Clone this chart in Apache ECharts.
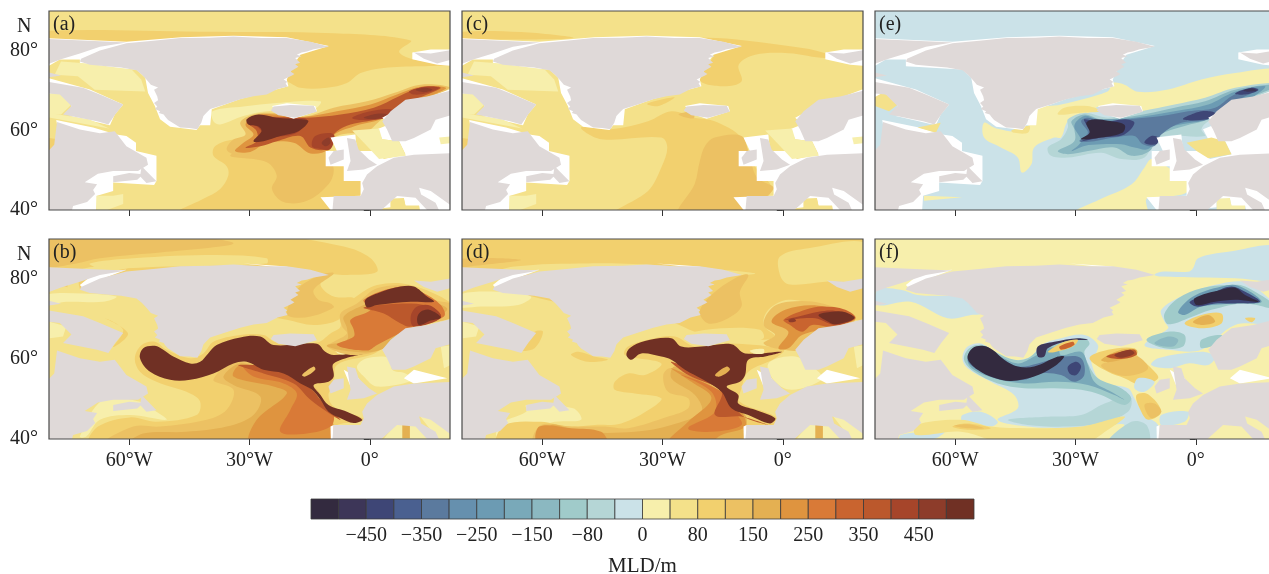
<!DOCTYPE html>
<html><head><meta charset="utf-8">
<style>html,body{margin:0;padding:0;background:#fff}#c{width:1269px;height:574px}</style>
<script src="https://cdn.jsdelivr.net/npm/echarts@6/dist/echarts.min.js"></script>
</head><body><div id="c"></div>
<script>
// Colour classes of MLD (m), index 1..24
const CLASS_COLORS=['#332a3f','#3d3658','#3e4676','#4a6090','#5b7a9e','#6690ae','#6c9bb3','#79a9b9','#8bb8c1','#a0cbca','#b5d6d6','#cbe2e8','#f7efac','#f4e18a','#f2d06e','#ecc163','#e4b052','#df943f','#d97a37','#c9642f','#bb582c','#a6452a','#8d3c2a','#703024'];
const BAR_TICK_POS=[2,4,6,8,10,12,14,16,18,20,22];
const BAR_TICK_LABELS=['\u2212450','\u2212350','\u2212250','\u2212150','\u221280','0','80','150','250','350','450'];
const LON_TICKS=[-60,-30,0];
const LAT_TICKS=[40,60,80];
const PANEL_LETTERS=['(a)','(b)','(c)','(d)','(e)','(f)'];

// True land outlines, lon,lat pairs
const LAND=[
[-81,83,-67.3,82.4,-60.7,82.1,-67.3,81,-72.3,79.3,-77,77.9,-81,76.4],
[-72,78,-67.3,80.1,-60.7,81.9,-54,82.5,-47.3,83.2,-40,83.3,-34,83.6,-27,83.2,-20.7,83.2,-14.8,82.3,-10.2,81,-14,80.4,-15.7,79.8,-17,79.6,-18.2,79,-17,78.6,-18.6,78.2,-17.4,77,-18.6,76.6,-17.8,76,-19.8,74.8,-18.8,74.2,-19.4,73.8,-21.5,72.8,-20.6,72.2,-21,71.8,-20.5,71,-23,70.4,-25.7,69,-29,68.6,-32.3,67.8,-36,66.6,-39.8,65.4,-40.8,64.4,-41.5,63.6,-42,62,-43,60.3,-45,60.6,-47.3,60.7,-49,61.8,-50.3,62.6,-51,63.4,-51.4,64,-52.6,64.4,-52.3,64.8,-53.6,65.4,-53,66,-53.8,66.9,-52.8,67.6,-53,68.5,-53.8,70.2,-52.8,70.8,-54.6,71.5,-55.7,72.8,-56.8,74,-58.2,75.1,-62,75.8,-65.7,76.1,-69.8,76.5,-72.3,77.3],
[-81,72.3,-71.5,70.7,-67.3,69,-61.5,66.5,-63.5,64,-65.2,61.5,-68,62.3,-76.5,64,-74.4,66.1,-77.3,69,-81,69.4],
[-81,74.8,-77,73.8,-81,73.2],
[-78,62.1,-72.3,60.2,-67.3,59.3,-63.6,59.8,-60.7,56,-55.7,53.1,-55.3,51.4,-57.8,49.8,-64,49.8,-67.8,49.1,-71.1,47,-68,46.5,-69,45,-68.5,44,-70.5,42,-74,41,-74.5,39,-81,39,-81,54,-78.7,56.4],
[-64,48.5,-60,49.3,-56.5,49,-58,47.6,-64,47],
[-56.9,51,-53.2,47.2,-55.7,46.8,-57.3,48.5],
[-24,66,-19.8,66.4,-14,66.2,-13.2,64.7,-18.6,63.2,-22.8,63.8,-24.7,65],
[11,79.6,15.2,79.3,21,80.3,21,78,16.8,76.8,13.5,78],
[21,70.2,14.3,68.5,8.9,67.7,5.2,64.8,3.1,62.3,4.3,60.2,5.6,57.3,8.9,57.3,11,58.1,15.2,60.2,16.4,62.7,21,64],
[21,54.3,11,53.9,6,53.1,1.8,51,-0.7,48.9,-1.9,46.8,-1.5,45.2,-2.3,43.5,-9,43.5,-9.4,39,1.8,39,6.8,43.5,11.4,43.1,15.2,39,17.7,39,16.4,41.8,12.8,43.9,12.3,45.6,15.2,44.8,20,41.3,21,41],
[-5.7,58.1,-3.6,57.7,-2.8,55.2,-0.2,52.7,1.8,51.4,-1.5,50.2,-5.7,49.8,-4.8,52.3],
[-9,54.8,-6.5,55.2,-6.5,52.7,-9.8,51.4,-10.3,53.1]
];
// Coarse model land mask of panels a, c, e
const COARSE_MASK=[
[-81,83.2,-60.7,82.3,-47,83.4,-34,83.8,-20.7,83.4,-10.2,81.2,-17.3,79,-19,76.5,-20.7,72.8,-20.3,71.1,-32.3,67.9,-39.4,65.3,-39.8,61.3,-42.3,61.3,-43.2,60.1,-49.8,60.9,-52.3,62.8,-53.6,66.1,-55.3,69.4,-56,73.2,-58.2,75.3,-72.3,76.1,-72.3,77.8,-77.3,77.8,-81,75.7],
[-81,73.4,-69.8,70.3,-61.5,66.5,-63.6,64,-64.8,61.3,-74.8,63.6,-74.4,66.8,-77.5,69.3,-81,67.8],
[-78.2,62.6,-69,60.7,-63.2,59,-60.7,58.6,-58.3,56.9,-58.3,54.8,-53.2,53.6,-53.2,47.3,-53.8,46.3,-64,46.9,-64,44.8,-68,43.6,-68.3,39,-81,39,-81,51.5,-77.3,57.8],
[-9.8,58.2,-3.6,59,-3.2,54.8,1.8,54.8,3.5,52.8,8.9,54,7.3,57.3,3.1,57.8,1.8,60.3,4.8,61.5,3.1,63.2,7.7,65.7,19.8,70.3,21,70.3,21,39,12.7,39,12.3,41,8.9,41,8.5,42.8,5.2,42.8,5.2,40.7,-9,39,-12.3,43.2,-2.3,43.6,-2.3,47.3,-6.5,47.3,-6.5,51,-11,51,-11,54.8,-8.2,54.8],
[10.6,79.6,15.2,80.3,21,80.3,21,76.2,16.8,76.5,10.6,77.9],
[-24.4,66.1,-20.7,66.8,-13.6,66.1,-13.2,64.8,-19,62.9,-22.3,64]
];
// White slivers of the finer runs, panels b, d, f
const FINE_MASK=[
[-72.3,78.5,-68.2,81.8,-60.7,82.3,-67.3,79.8,-71.5,77.7],
[-31.5,83.9,-21.5,83.2,-13.2,81.8,-20.7,82.7],
[-6.5,57.3,-2.8,55.2,-0.7,51.4,-4.8,53.1],
[11,57.3,19.3,55.2,11,53.9,8.5,55.2],
[-9,43.5,-9.8,43.1,-9.7,39,-9,39]
];
// Cells shown over the mask in panels a and c
const COARSE_CELLS=[
[13,[-78.6,74,-72.8,73.6,-68.6,70.2,-56,69.8,-57,72.8,-59.4,75.3,-71,76.9,-77,77.3]],
[13,[-81,69,-78,69.7,-73,67.8,-77,64,-81,64]],
[13,[-81,64.5,-70,62.8,-65,60.5,-81,63.4]],
[13,[-4.4,60,2.3,60.5,3.1,57.8,7.3,57.3,9,53.6,2.3,52.8,-0.7,56.1]],
[13,[17.3,58.2,21,58.6,21,56.9,17.7,56.5]],
[13,[-68.2,43.6,-64,43.6,-61.5,44,-61.5,41.5,-68.2,39]],
[14,[5.2,42.8,8.5,43,8.9,41.1,12.3,41.1,12.3,39,5.2,39]],
[15,[-81,58.2,-77.8,57.8,-79,54,-81,53.2]]
];
const E_CELLS=[
[14,[-2.3,56.9,3.9,58.2,7.3,57.3,8.9,54,3.1,53,0.2,54.8]],
[14,[-81,67.8,-78.2,69.4,-73.2,67.3,-76.5,64.8,-81,66.5]],
[14,[-69.4,60.7,-63.6,61.9,-64.8,59.4]],
[13,[-67.8,43.6,-58.2,43.2,-67.8,42.3]],
[13,[5.2,42.8,8.5,43,8.9,41.1,12.3,41.1,12.3,39,5.2,39]]
];
// Cells shared by the finer panels b and d
const FINE_CELLS=[
[13,[-79.8,69.3,-75.7,68.1,-76.5,65.6,-79.8,65.2]],
[13,[17.7,63.1,21,63.5,21,58.9,18.5,57.7]],
[13,[2.7,39,6.8,44.3,11.8,43.5,16,39]],
[13,[12.3,46,15.6,45.2,21,41,17.7,39]],
[17,[8.1,43.9,10,43.9,10,40.2,8.1,40.2]]
];

// Filled MLD classes of each panel: [class, lon,lat outline]
const FIELD_A=[
[15,[-81,85,-42.3,84.8,-9,84.4,10.2,82.6,7.3,79.8,10.6,77.9,21,76.5,3.5,75.7,-2.3,74.4,-5.7,71.9,-10.7,70.7,-17.3,70.7,-20.7,72.3,-50,80,-81,83.2]],
[15,[-38.6,56,-39,53.6,-35.7,51,-35.3,48.6,-37.3,45.3,-41.5,42.8,-48.2,39,-11.5,39,-2.3,43.6,-2.3,47.3,-6.5,51,-10.7,53.6,-12.3,56,-19.8,58.6,-34,57.7]],
[16,[-34.8,53.6,-25.7,52,-23.2,48.6,-24.4,45.3,-21.5,42,-15.7,42.3,-10.3,46.5,-9,50.2,-10.7,53.6,-19,56,-27.3,56]],
[13,[-39.2,64.8,-31.5,66,-23.2,66.9,-12.3,67.3,-14,65.2,-25.7,64.8,-31.5,63.6,-37.3,61.5,-39,62.3]],
[16,[-35.7,55.3,-34,57.7,-31,59,-32.3,62,-29,64,-24,64.4,-17.3,63.2,-9,65.7,-0.7,67.3,6,69.4,12.7,71.5,19.8,70.9,17.7,69.4,9.3,66.9,3,62.8,-0.7,59.8,-8.2,58.6,-10.3,54.8,-11,53.6,-15.7,53.6,-20.7,55.7,-29,54,-34,54]],
[18,[-33.6,54.8,-31.5,56.9,-29,59,-31,61.5,-28.2,63.8,-23.2,64,-16.5,63.4,-8.2,64.8,0.2,66.5,6.8,69,13,71,19,70.7,16,69,9.3,66.8,3,62.9,-4,61,-9,58.8,-10.3,55.2,-14.8,54.2,-19,56.9,-25.7,56.9,-29.8,54.6]],
[21,[-31,55.7,-28.2,57.3,-28.2,59.8,-30.3,61.9,-27.8,63.6,-23.2,63.4,-15.7,63.2,-7.3,64,1,65.7,7.3,68.6,13,70.9,17.7,70.7,14.3,69,8.5,66.5,3,63.2,-4.8,61.5,-8.2,59.8,-9.8,57.8,-11,55.2,-14.8,55.7,-17.3,58.6,-23.2,57.3,-27.3,56]],
[22,[-28.6,57,-26.5,58.6,-27.8,60.7,-29.8,61.9,-27.3,63.6,-22.3,62.9,-15.7,62.8,-18.2,59.4,-24,58.2]],
[22,[-14.4,56,-13.6,58.6,-9,59,-9.8,55.3,-12.3,55.3]],
[22,[-4.4,63.2,0.2,64.8,5.2,65.3,6.8,64,3.5,62.9,-2.3,62.6]],
[22,[9.8,69.8,13.5,70.9,17.3,70.7,14.3,69.4,11,69]],
[24,[-30.7,62.8,-27.8,64,-23.2,63.2,-17.3,62.8,-15.3,62.3,-17.8,59.8,-22.3,58.6,-26.5,57.3,-29,57.3,-27,59.8,-27.8,61,-30.3,61.5]],
[23,[-12,56.9,-10.3,58.2,-9.8,56.9,-11,56]],
[23,[-1.5,63.2,1.8,64.2,4.3,64,1.8,62.9]],
[23,[11.4,70.2,13.9,70.7,15.6,70.2,13.5,69.6]]
];
const FIELD_C=[
[15,[-81,84.7,-65.2,84.7,-52.3,83.2,-73.6,82.8,-81,83.2]],
[15,[-20.7,83.2,2.3,81.1,10.6,79.4,10.6,78.2,1.4,79.4,-6.9,79,-11,76.5,-10.3,72.3,-15.3,71.1,-20.7,72.8,-17,79.8]],
[15,[-50.3,60.7,-45.3,57.8,-30.3,58.2,-28.8,55.7,-30.3,50.7,-33.6,44.8,-42,39,-12.3,39,-2.8,44.8,-7.3,51.5,-10.3,58.2,-17,62.3,-22,63.2,-27.8,64.8,-33.6,62.3,-42.8,60.3]],
[16,[-19.4,56.1,-20.7,52.3,-22,46.5,-26,39,-12.3,39,-2.3,45.3,-6.5,48.2,-8.6,54.8,-10.3,58.6,-17,58.2]],
[15,[-33.8,66.7,-27,68.3,-31,66.1]],
[16,[-26,64,-22.3,64.7,-22.3,63]]
];
const FIELD_E=[
[13,[-20.7,71.9,-17.8,71.5,-14.4,69.7,-6.9,70.3,1.4,72.8,9.8,74.4,21,75.3,21,71.5,9.8,69.7,1.4,67.3,-8.6,64.4,-12.8,64.8,-23.6,66.1,-28.6,63.2,-31.9,62.3,-33.6,58.2,-35.3,58.2,-40.3,55.7,-41,51.5,-43.4,49.4,-44.4,53.2,-48.6,55.7,-52.8,58.2,-52.8,61.9,-49.8,60.5,-42.8,60,-39.8,65.3,-33.6,66.5,-22,69.8]],
[14,[-34.4,64,-32.8,65.7,-27,66.1,-23.6,64.8,-29.4,64.4]],
[14,[-46,60,-41.5,61.1,-41.9,59.4,-45.3,59.4]],
[13,[-30.7,39,-23.6,42.8,-16,46.5,-12.8,50.7,-11,52.8,-6.9,50.7,-2.3,47.3,-2.3,44.4,-8.6,43.2,-12.3,42.8,-12.3,39]],
[11,[-36.9,55.7,-33.6,57.8,-31.9,60.7,-31.9,62.8,-27.8,64.4,-21.9,63.2,-13.6,64.8,-5.3,66.5,2.3,68.2,9.8,70.7,21,71.9,21,69.7,9.8,65.7,3.1,62.3,1.4,60.3,2.3,58.6,-9.4,58.2,-12.8,53.2,-18.6,52.8,-23.6,54.4,-31.9,53.2,-36.1,53.6]],
[9,[-34.4,54.8,-30.3,57.3,-30.3,60.3,-31,62.3,-27.8,64,-23.6,62.8,-15.3,63.6,-5.3,65.7,2.3,67.3,9.8,70.2,21,71.5,16.4,69.4,9.8,66.8,3.1,62.8,-2.8,61.1,-9.4,58.6,-11.5,54.8,-16,53.6,-20.3,55.7,-26.9,54.8,-31.9,54]],
[7,[-31,54.8,-28.6,57.3,-30.3,61.1,-27.8,63.6,-24.4,62.8,-15.3,63.2,-5.3,64.8,3.1,66.5,9.8,69.7,17.3,71.1,13.9,68.2,8.1,65.7,3.1,62.8,-6.9,60.7,-9.4,58.2,-11.9,55.3,-15.3,55.7,-18.6,56.5,-23.6,56.5,-27.8,56.1]],
[5,[-29,57.3,-26.9,59.4,-28.6,62.3,-26.9,63.2,-23.6,62.3,-16.9,62.8,-8.6,63.6,-1.9,64.8,4.8,65.7,8.9,68.6,13.9,70.7,15.6,70.3,9.8,67.3,3.1,62.8,-3.6,61.9,-8.6,59,-10.3,56.1,-13.2,56.5,-15.3,58.6,-20.3,58.2,-25.3,57.3]],
[3,[-28.6,57.3,-25.3,59,-27.3,61.5,-27.8,62.8,-23.6,61.9,-17.8,62.8,-15.3,61.9,-17.8,59,-23.6,58.2]],
[3,[-12.8,56.9,-11.1,58.6,-9.4,58.2,-9.8,56.5]],
[3,[-3.2,62.8,1.4,64.8,4.8,64.4,2.7,62.8]],
[3,[9.8,69.3,13.9,70.7,15.6,70.1,12.3,69]],
[1,[-28.6,57.8,-26.5,59.4,-27.3,61.9,-25.3,62.8,-21.9,62.4,-17.8,61.4,-18.2,59.5,-23.6,58.2]],
[2,[11.8,70,13.9,70.5,15.2,70,13,69.7]]
];
const FIELD_B=[
[15,[-81,91,-25.7,91,-6.5,88.1,0.2,85.2,1.8,81.8,-5.7,81,-10.3,81,-12.3,78.5,-9,75.6,-4,75.2,-7.3,72.3,-7.8,69.8,-14,68.5,-20.7,69.8,-50,75,-81,80]],
[16,[-81,91,-49,91,-34,88.9,-50.7,86.8,-67.3,85.2,-73.2,83.9,-81,83.5]],
[14,[-69.8,83.9,-59,85.2,-38.2,86,-25.7,85.2,-25.7,83.9,-50.7,83.1,-67.3,82.7]],
[14,[-75.3,78.5,-74.4,81.4,-68.2,83.1,-59,83.1,-72.3,79.8,-72.3,76.4,-75.3,77.3]],
[16,[-20.7,71.4,-18.2,77.3,-12.3,81,-9,81.4,-14,77.3,-12.8,74.8,-9.8,73.9,-9,72.9,-14.8,70.6,-19,70.4]],
[13,[-81,76,-71.5,76.4,-63.2,75.6,-66.5,74.3,-75.7,74.3,-81,73.5]],
[15,[-66,70.2,-60.3,66.4,-64,63,-61.5,67.3]],
[13,[-66.5,49.8,-57.3,49.3,-53.2,46.8,-50.7,44.8,-59.8,46,-67.3,44.8,-70.7,40.6,-72.3,40.6]],
[15,[-69.8,39,-67.8,43.1,-59.8,45.4,-53.2,44.3,-43.2,46,-42.3,49.3,-44.8,51.4,-53.2,54.3,-57.3,56.8,-58.6,60.2,-56.9,63.5,-53.6,64.3,-50.7,62.3,-44.8,60.2,-41.5,61.4,-39,64.3,-32.3,66,-26.5,66,-23.2,64.1,-13.2,64.1,-9.8,66.4,-7.3,68.1,-7.8,72.3,-4,75.2,1.8,78.5,10.2,78.5,21,73.5,21,70.6,10.2,67.7,2.7,62.3,0.2,61,-8.2,58.5,-9,53.9,-10.3,51,-9,48.1,-1.5,44.8,-9,43.1,-9.4,39]],
[16,[-65.7,39,-59,43.1,-52.3,43.1,-40.7,44.8,-35.7,47.3,-34,52.3,-39,54.8,-32.3,59.3,-14,53.1,-10.3,45.6,-9,43.1,-9.4,39]],
[17,[-59.8,39,-56.5,41.4,-45.7,41.8,-35.7,43.1,-29,46,-27.3,50.6,-34,53.5,-36.5,55.6,-32.3,58.9,-26.5,56.8,-17.3,53.5,-10.7,46,-9,43.1,-9.4,39]],
[18,[-29.8,39,-28.2,44.8,-20.7,51.4,-24,53.1,-34,55.6,-32.3,58.5,-25.7,56.4,-17.3,53.5,-10.7,47.3,-9,43.1,-9.8,39]],
[19,[-22.3,41.8,-19.8,47.3,-18.2,51.4,-21.5,53.9,-29,55.6,-31.5,58.1,-25.7,56.8,-17.3,53.5,-11.5,48.1,-9,46,-9.8,43.1,-15.7,41.4]],
[21,[-32.8,58.5,-26.5,56.4,-19,53.9,-14.8,49.8,-10.7,46.8,-7.3,44.8,-12.3,49.8,-14.4,52.3,-21.5,57.3]],
[24,[-57.3,60.2,-56.5,62.7,-53.6,63.3,-51.5,62.3,-49,60.6,-44.8,58.9,-42.3,59.3,-40.3,61.4,-38.2,63.5,-32.3,65.4,-27.3,65.6,-24,63.5,-13.2,63.8,-11.1,61.8,-9,61,-0.7,61.6,-9,58.9,-9,55.6,-10.3,54.3,-14,53.5,-12.3,51,-10.3,48.5,-5.7,46.8,-1.9,44.8,-4,44,-7.3,45.2,-10.3,46.8,-12.3,49.8,-14.4,52.3,-17.3,53.9,-21.5,56.4,-26.5,57.3,-30.7,59.3,-34,58.9,-39,56.4,-44.8,54.8,-49.8,54.8,-54.8,56.8]],
[16,[-16.9,56,-14,58.1,-13.6,57.3,-16.1,55.6]],
[13,[-8.6,62.3,-4.4,62.4,-5.7,61.3,-7.8,61.3]],
[16,[-6.9,68.1,-7.3,71.4,-3.2,73.9,1.8,77.7,10.2,78.1,16,74.8,21,73.5,21,70.6,10.2,67.7,2.7,62.3,-4.8,61,-10.7,63.1,-9,64.3,-5.7,66.4]],
[17,[-5.7,67.7,-6.5,70.6,-1.5,73.5,7.7,77.7,14.3,74.8,19.3,72.3,10.2,67.7,2.7,62.3,-4,61.8,-10.7,63.3,-5.7,64.8]],
[19,[-4,67.3,-4.8,69.8,0.2,72.3,-1.5,74.8,7.7,78.1,12.7,76.8,17.7,73.5,18.5,70.6,10.2,67.7,1.8,63.5,-0.7,62.1,-8.2,63.5,-4,65.6]],
[21,[-1.5,72.9,10.2,73.9,16,72.7,17.7,70.4,10.2,68.1,7.7,68.9,3.5,71.4]],
[22,[10.2,70.6,11.8,73.1,15.2,73.3,17.7,70.4,11,68.1]],
[24,[-1.1,74.8,1.8,76.4,7.7,78.1,11,78.1,14.3,75.6,16,74.3,10.2,74.3,1.8,73.5,-0.7,72.9]],
[24,[11.8,70.2,12.7,71.8,14.8,72.3,17.7,70.4,15.2,69.6,12.3,68.5]],
[13,[-0.7,60.2,5.2,60.2,5.6,57.3,8.9,56.4,11,54.8,1.8,53.1,-1.5,55.6,-3.2,58.1]]
];
const FIELD_D=[
[15,[-81,91,21,91,21,70.2,9.8,73.1,1.4,74.8,-3.6,72.3,-4.8,68.5,-1.9,65.6,-5.3,64.8,-11.1,66,-19.4,66,-30,70,-60,75,-81,83]],
[14,[-0.7,85.6,6.4,87.7,21,88.9,21,80.2,10.6,79.3,1.4,78.7,-0.7,81]],
[14,[-74.8,78.5,-74.4,80.6,-66.9,83.1,-48.6,83.9,-31.9,83.5,-15.3,82.3,-6.9,81.4,-11.1,81,-40.3,82.3,-65.3,81,-71.5,78.9,-72.8,78.1]],
[16,[-81,85,-65.3,84.8,-76.9,83.3,-81,83]],
[16,[-20.7,71.8,-17.8,76,-11.9,80.2,-8.6,81,-10.7,76.8,-10.3,73.1,-13.6,70.2,-18.6,68.9]],
[14,[-23.6,66.4,-15.3,67.7,-5.7,67.3,-4.8,65.2,-9.4,63.9,-14.4,62.7,-23.6,65.2]],
[13,[-81,76,-71,76.8,-62.8,75.6,-66,73.5,-75.3,73.1,-81,73.1]],
[15,[-52.8,61,-51,61.8,-46.9,60.6,-43.6,59.8,-48.6,59.3]],
[15,[-61.9,66.8,-59.8,66.8,-61.9,62.7,-65.3,62.3]],
[13,[-64,48.5,-52.3,47.7,-50.3,44.8,-56.9,44.3,-65.3,41.8,-71,40,-71,43.5,-64,46.8]],
[15,[-71,39,-69.4,43.5,-60.3,44.3,-53.6,43.1,-46.9,43.5,-40.3,43.9,-32.8,47.7,-30.3,50.2,-36.9,51.4,-41.9,52.3,-41.9,54.3,-38.6,56.4,-34.4,56,-30.3,58.9,-39.4,61,-38.6,63.1,-31.9,65.2,-26.9,65.6,-21.9,63.1,-12.8,63.9,0.2,62.3,-1.9,60.2,-8.6,56.8,-10.3,52.7,-10.7,49.3,-1.9,45.6,-1.9,43.5,-9,43.1,-9.4,39]],
[16,[-61.9,39,-60.3,43.5,-52.8,43.1,-44.4,43.1,-38.6,42.7,-28.6,45.6,-23.6,47.7,-23.6,50.2,-28.6,51.8,-29.8,56,-27.8,57.7,-15.3,51,-10.3,46.8,-9,43.1,-9.4,39]],
[17,[-56.9,39,-57.8,43.5,-50.3,41.8,-36.9,41.8,-27.8,43.5,-20.3,46.8,-21.9,51,-27.8,55.2,-26.9,58.1,-15.3,51.8,-9.4,46,-9,43.1,-9.4,39]],
[18,[-60.7,43.1,-52.8,42.7,-45.3,41.8,-44,39,-61.1,39]],
[18,[-28.6,39,-23.6,44.3,-17.8,50.2,-22.8,54.3,-27.8,57.7,-15.3,51.8,-10.3,46.8,-9.4,43.1,-15.3,41,-18.6,39]],
[19,[-23.6,42.7,-16.9,46.8,-17.8,51.8,-25.3,56,-15.3,51.8,-11.9,46.8,-10.3,43.5,-17.8,41.8]],
[21,[-16.9,46,-15.3,51.8,-23.6,56,-27.8,59.3,-15.3,53.5,-10.3,46,-3.6,43.5,-10.3,45.6]],
[24,[-39,61,-38.2,62.7,-34.4,64.5,-27.8,65.2,-25.3,63.1,-20.3,63.1,-12.8,63.7,-9.4,61.4,-0.3,61.8,-4.4,60.6,-8.6,59.8,-9.4,56,-10.7,54.3,-14,53.1,-11.1,51,-11.1,48.9,-6.9,47.3,-1.9,45.2,-3.2,43.9,-8.6,46,-12.8,47.7,-15.3,51.8,-19.8,54.8,-24.4,57.3,-27.8,59.8,-30.3,60.6,-35.3,61.4,-37.8,59.8]],
[17,[-16.9,56,-14,58.1,-13.2,57.3,-15.7,55.6]],
[13,[-8.2,62.1,-4.8,62.5,-4.8,61.4,-7.3,61.4]],
[16,[-4.8,68.5,-2.8,72.7,1.4,74.3,9.8,73.9,18.1,70.2,12.3,66,4.8,62.3,0.2,62.3,-4.8,63.9,-1.9,66]],
[18,[-2.8,69.3,0.6,72.3,8.9,73.3,18.1,70.2,11.4,67.7,4.8,66,1.4,62.7,-1.1,62.7,1.4,66.8]],
[20,[0.2,69.8,5.6,72.3,9.8,73.1,15.6,72.3,18.1,70.2,12.3,68.1,7.3,68.5,4.8,66.8,1.8,68.5]],
[22,[0.6,69.8,3.9,70.6,8.9,71.8,13.1,72,17.7,70.2,13.1,68.5,8.1,70.2]],
[24,[8.9,71,12.3,71.8,15.6,71.7,17.9,70.2,13.1,68.7,11,69.5]],
[23,[1.4,69.7,2.7,70.2,3.3,69.5,1.8,69.2]],
[13,[-3.6,58.9,3.1,60.6,8.9,56.8,9.8,54.8,2.3,52.3,-1.9,54.3]]
];
const FIELD_F=[
[12,[-0.7,82.7,0.6,85.2,8.1,86.8,21,88,21,80.2,9.8,80.2,-8.6,80.6,-10.3,81,-8.6,81.8,-1.9,81.8]],
[12,[-79.4,77.3,-73.6,77.3,-69.4,76,-56.9,75.2,-53.6,71.4,-56,71,-61.9,70.2,-71.1,74.3,-79.4,73.5]],
[12,[-58.2,60.2,-56.9,63.1,-53.6,63.9,-50.3,61.8,-45.3,59.8,-41.1,60.6,-38.6,63.5,-33.6,65.2,-27.8,66,-24.4,63.5,-25.3,60.6,-26.1,59.3,-23.6,54.3,-16.9,52.7,-15.3,50.2,-12.8,46,-9.4,43.5,-9.4,39,-21.9,39,-17.8,43.5,-23.6,43.1,-31.9,42.7,-41.9,43.1,-49.4,44.8,-44.4,47.7,-45.3,51,-51.1,54.3,-56.9,57.7]],
[12,[-8.6,72.3,-2.8,76,6.4,78.9,13.1,78.9,21,72,21,68.8,9.8,68.5,1.4,62.3,-6.9,62.3,-12.8,63.5,-6.9,67.7,-7.8,69.3]],
[12,[-9.4,60.2,1.4,61.8,4.8,60.6,3.1,58.5,-1.9,58.9,-6.5,57.7,-11.1,58.5]],
[12,[-58.2,46,-53.6,46.8,-49.4,44.3,-51.1,43.1,-58.2,44.3]],
[12,[-8.6,46,-1.9,46.8,-2.8,44.3,-8.6,43.5]],
[12,[-73.6,41,-62.8,41.8,-65.3,40,-73.6,39]],
[11,[-46.8,44.8,-36.1,45.6,-28.6,46,-23.6,48.5,-20.3,50.2,-23.6,51.8,-28.6,53.1,-24.4,53.9,-18.6,52.3,-16.1,50.2,-16.9,46.8,-23.6,44,-31.9,43.1,-41.9,43.5]],
[11,[-21.9,39,-16.1,44.3,-12.3,43.5,-11.9,39]],
[10,[-57.8,59.8,-56.5,62.7,-53.2,63.5,-49.8,61.7,-45.3,59.8,-41.9,60.2,-38.6,62.7,-33.6,64.3,-27.8,65.2,-26.5,63.9,-27.8,61.8,-26.9,58.9,-24.4,55.2,-18.6,52.7,-16.1,50.2,-17.8,48.5,-23.6,51,-28.6,52.3,-35.3,52.7,-42.8,52.7,-49.4,53.9,-55.3,56.8]],
[8,[-56.9,59.3,-56.1,62.3,-53.2,63.1,-49.4,61,-44.4,58.9,-40.3,60.6,-36.9,62.7,-34.4,62.7,-33.6,61,-28.6,61.8,-26.9,58.5,-25.3,54.3,-21.1,51.8,-17.8,49.8,-20.3,51,-26.9,53.5,-34.4,54.3,-42.8,53.9,-50.3,55.2,-55.3,57.3]],
[5,[-56.9,59.8,-54.8,62.7,-52.3,63.1,-49,60.6,-44.4,58.1,-39.4,58.9,-32.8,60.6,-28.6,60.2,-27.8,56,-30.3,54.3,-33.6,56,-38.6,56.4,-42.8,54.8,-48.6,54.8,-54.4,57.3]],
[3,[-31.9,58.1,-29.8,59.3,-28.6,58.1,-29.8,56,-31.5,56.4]],
[1,[-56.9,60.2,-55.7,62.7,-53.2,63.3,-50.7,62.3,-47.8,59.8,-44.4,58.1,-40.3,58.1,-34.4,60.6,-32.8,60.6,-35.3,58.1,-40.3,55.6,-46.1,54.5,-50.3,55.3,-54.4,57.3]],
[2,[-39.4,63.1,-35.3,64.3,-29.4,65.2,-26.9,64.8,-31.9,64.5,-36.9,62.7,-37.8,60.6,-39.4,60.6]],
[15,[-36.9,61.8,-32.8,64.3,-29.4,64.8,-30.7,63.1,-35.3,61.7]],
[20,[-34,63.1,-30.7,64.3,-30.3,63.5,-33.6,62.3]],
[15,[-26.5,60.2,-21.9,62.3,-15.3,62.7,-14.4,60.6,-11.1,57.7,-9.4,55.2,-13.6,53.5,-17.8,55.2,-21.9,56.8]],
[16,[-23.6,58.5,-16.9,60.2,-14.4,60.6,-11.9,57.7,-15.3,56,-19.4,56]],
[17,[-23.6,59.8,-18.6,62.3,-14.8,62.3,-14.8,61,-17.8,60,-21.9,59.2]],
[21,[-22.3,60.6,-18.6,61.8,-15.3,62.3,-14.8,61,-18.6,60]],
[23,[-20.3,61,-16.5,62.3,-15.3,61.4,-18.6,60.3]],
[12,[-14.4,55.2,-10.3,54.3,-12.8,51.8,-15.3,52.7]],
[15,[-14.8,51,-11.9,51.2,-8.6,46.8,-11.9,44.8,-14,47.7]],
[16,[-12.8,48.5,-10.3,48.9,-8.6,46.8,-11.1,45.2]],
[10,[-7.8,71.4,-4.4,75.2,1.4,77.7,8.1,78.5,12.3,78.1,21,72.3,12.3,73.9,3.9,72.3,-1.9,70.2,-5.3,68.9,-7.3,68.9]],
[7,[-4.4,71.8,-0.7,75.6,6.4,78.1,10.6,78.3,16.4,74.3,9.8,73.9,1.4,73.1,-2.8,71]],
[3,[-1.5,74.3,4.8,76.8,8.9,78.1,12.3,76.8,16,74.3,9.8,73.9,4.8,73.9,0.2,73.1]],
[1,[-0.3,75.2,6.4,77.3,9.8,77.8,12.3,76,15.6,74.3,9.8,74.8,4.8,74.3,0.2,73.5]],
[15,[-2.8,68.9,1.4,71,6.4,71.4,6.4,68.9,1.4,67.7]],
[17,[-0.7,69.3,3.1,71,4.8,69.3,1.4,68.5]],
[15,[12.3,70.2,14.8,70.2,13.9,69.2]],
[10,[-12.3,64.8,-6.9,66.8,-2.8,66,-3.2,63.1,-7.8,62.7]],
[9,[-10.3,63.9,-6.9,65.6,-4.4,64.8,-5.7,63.1]],
[10,[1.4,64.8,6.4,66,6.4,64.3,1.4,62.7]],
[14,[-69.8,43.5,-58.6,44.8,-51.1,43.1,-41.9,42.7,-28.6,43.1,-17.8,45.6,-21.9,42.3,-27.8,39,-47.8,39,-58.6,41.8,-69.8,41]],
[15,[-60.7,43.1,-56.9,43.9,-51.1,42.7,-56.9,42.3]],
[16,[-60.3,43.3,-56.9,43.7,-52.8,42.7,-56.9,42.7]]
];

const FONT='"Liberation Serif","Times New Roman",serif';
const INK='#222';
const FULL=[-81,91,21,91,21,39,-81,39];
const FRAME=[-80,90,20,90,20,40,-80,40];
const LAND_FILL='#dfd9d8';

const panels=[
 {bg:14,field:FIELD_A,cells:COARSE_CELLS,mask:COARSE_MASK,left:49,top:11,h:199,xl:false,yl:true},
 {bg:14,field:FIELD_B,cells:FINE_CELLS,mask:FINE_MASK,left:49,top:239,h:200,xl:true,yl:true},
 {bg:14,field:FIELD_C,cells:COARSE_CELLS,mask:COARSE_MASK,left:462,top:11,h:199,xl:false,yl:false},
 {bg:14,field:FIELD_D,cells:FINE_CELLS,mask:FINE_MASK,left:462,top:239,h:200,xl:true,yl:false},
 {bg:12,field:FIELD_E,cells:E_CELLS,mask:COARSE_MASK,left:875,top:11,h:199,xl:false,yl:false},
 {bg:13,field:FIELD_F,cells:[],mask:FINE_MASK,left:875,top:239,h:200,xl:true,yl:false}
];
const grid=[],xAxis=[],yAxis=[],series=[],title=[];
panels.forEach((p,i)=>{
  grid.push({left:p.left,top:p.top,width:401,height:p.h,outerBoundsMode:'none'});
  xAxis.push({type:'value',gridIndex:i,min:-80,max:20,splitLine:{show:false},
    axisLine:{show:false},
    axisTick:{show:true,length:6,lineStyle:{color:'#333',width:1},customValues:LON_TICKS},
    axisLabel:{show:p.xl,customValues:LON_TICKS,margin:12,fontFamily:FONT,fontSize:20,color:INK,hideOverlap:false,
      formatter:v=>v===0?'0\u00b0':Math.abs(v)+'\u00b0W'}});
  yAxis.push({type:'value',gridIndex:i,min:40,max:90,splitLine:{show:false},
    axisLine:{show:false},
    axisTick:{show:true,length:6,lineStyle:{color:'#333',width:1},customValues:LAT_TICKS},
    axisLabel:{show:p.yl,customValues:LAT_TICKS.concat([86]),margin:11,fontFamily:FONT,fontSize:20,color:INK,hideOverlap:false,
      formatter:v=>v===86?'N\u2004':v+'\u00b0'}});
  const layers=[{c:CLASS_COLORS[p.bg-1],pts:FULL,s:0}];
  p.field.forEach(f=>layers.push({c:CLASS_COLORS[f[0]-1],pts:f[1],s:0.35}));
  p.mask.forEach(m=>layers.push({c:'#ffffff',pts:m,s:0}));
  p.cells.forEach(f=>layers.push({c:CLASS_COLORS[f[0]-1],pts:f[1],s:0}));
  LAND.forEach(l=>layers.push({c:LAND_FILL,pts:l,s:0}));
  series.push({type:'custom',coordinateSystem:'cartesian2d',xAxisIndex:i,yAxisIndex:i,clip:true,silent:true,animation:false,progressive:0,
    data:layers.map(l=>[l.pts[0],l.pts[1]]),
    renderItem:(params,api)=>{
      const l=layers[params.dataIndex];const pts=[];
      for(let k=0;k<l.pts.length;k+=2)pts.push(api.coord([l.pts[k],l.pts[k+1]]));
      return {type:'polygon',shape:{points:pts,smooth:l.s},style:{fill:l.c}};
    }});
  series.push({type:'custom',coordinateSystem:'cartesian2d',xAxisIndex:i,yAxisIndex:i,clip:false,silent:true,animation:false,z:5,
    data:[[FRAME[0],FRAME[1]]],
    renderItem:(params,api)=>{
      const pts=[];for(let k=0;k<FRAME.length;k+=2)pts.push(api.coord([FRAME[k],FRAME[k+1]]));
      return {type:'polygon',shape:{points:pts},style:{fill:'none',stroke:'#4a4a4a',lineWidth:1.2}};
    }});
  title.push({text:PANEL_LETTERS[i],left:p.left+4,top:p.top+4,padding:0,
    textStyle:{fontFamily:FONT,fontSize:20,fontWeight:'normal',color:INK}});
});
// Colour bar
const bi=panels.length;
grid.push({left:311,top:499,width:663,height:20,outerBoundsMode:'none'});
xAxis.push({type:'value',gridIndex:bi,min:0,max:24,splitLine:{show:false},axisLine:{show:false},axisTick:{show:false},
  axisLabel:{customValues:BAR_TICK_POS,margin:7,fontFamily:FONT,fontSize:20,color:INK,hideOverlap:false,
    formatter:v=>BAR_TICK_LABELS[BAR_TICK_POS.indexOf(v)]},
  name:'MLD/m',nameLocation:'middle',nameGap:37,nameTextStyle:{fontFamily:FONT,fontSize:21,color:INK}});
yAxis.push({type:'value',gridIndex:bi,min:0,max:1,show:false});
series.push({type:'custom',coordinateSystem:'cartesian2d',xAxisIndex:bi,yAxisIndex:bi,silent:true,animation:false,clip:false,
  data:CLASS_COLORS.map((c,i)=>[i,0]),
  renderItem:(params,api)=>{
    const i=params.dataIndex;const a=api.coord([i,1]),b=api.coord([i+1,0]);
    return {type:'rect',shape:{x:a[0],y:a[1],width:b[0]-a[0],height:b[1]-a[1]},
      style:{fill:CLASS_COLORS[i],stroke:'#3a3a3a',lineWidth:0.8}};
  }});
const chart=echarts.init(document.getElementById('c'),null,{renderer:'canvas',width:1269,height:574});
chart.setOption({animation:false,backgroundColor:'#fff',title,grid,xAxis,yAxis,series});
</script></body></html>
